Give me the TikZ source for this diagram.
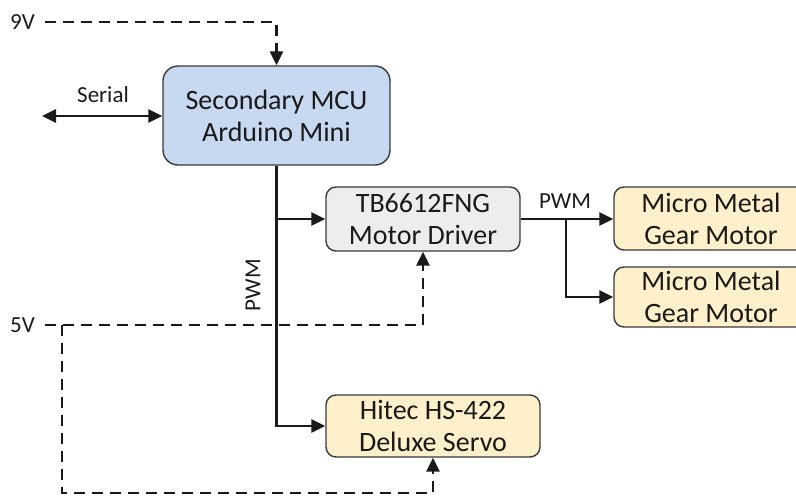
\documentclass[tikz,border=0pt]{standalone}
\usepackage{fontspec}
\setmainfont{Carlito}
\usetikzlibrary{arrows.meta}
\definecolor{mcublue}{HTML}{C6D9F1}
\definecolor{partyellow}{HTML}{FDF0CB}
\definecolor{drvgray}{HTML}{EDEDED}
\definecolor{edgegray}{HTML}{3A3A3A}
\definecolor{inkc}{HTML}{1A1A1A}
\begin{document}
\begin{tikzpicture}[x=1pt,y=-1pt,
  >={Triangle[length=14pt,width=13pt]},
  box/.style={draw=edgegray, line width=1.4pt, rounded corners=10pt, align=center,
    inner sep=0pt, font=\fontsize{28}{32}\selectfont, text=inkc},
  lbl/.style={font=\fontsize{23}{26}\selectfont, text=inkc, inner sep=0pt},
  wire/.style={draw=inkc, line width=2.7pt},
  power/.style={wire, dash pattern=on 11pt off 7pt},
]
\useasboundingbox (0,0) rectangle (796,496);
\clip (0,0) rectangle (796,496);

% boxes
\node[box, fill=mcublue, rounded corners=15pt, minimum width=227pt, minimum height=99pt]
  (mcu) at (276.5,115.5) {Secondary MCU\\Arduino Mini};
\node[box, fill=drvgray, minimum width=194pt, minimum height=64pt]
  (tb) at (423,219) {TB6612FNG\\Motor Driver};
\node[box, fill=partyellow, minimum width=194pt, minimum height=63pt]
  (m1) at (711,218.5) {Micro Metal\\Gear Motor};
\node[box, fill=partyellow, minimum width=194pt, minimum height=60pt]
  (m2) at (711,297) {Micro Metal\\Gear Motor};
\node[box, fill=partyellow, minimum width=214pt, minimum height=62pt]
  (servo) at (433,426) {Hitec HS-422\\Deluxe Servo};

% labels
\node[lbl, anchor=east] (v9) at (35,22) {9V};
\node[lbl, anchor=east] (v5) at (35,325) {5V};
\node[lbl] (serial) at (103,95) {Serial};
\node[lbl] (pwmtop) at (565,201) {PWM};
\node[lbl, rotate=90] (pwmside) at (253,285) {PWM};

% helper coordinates
\coordinate (serialEnd) at (42,116);
\coordinate (br) at (566,219);
\coordinate (v5corner) at (62,325);
\coordinate (v5bottom) at (62,493);

% power lines
\draw[power,->] ([xshift=10pt]v9.east) -| (mcu.north);
\draw[power,->] ([xshift=10pt]v5.east) -| (tb.south);
\draw[power,->] (v5corner) -- (v5bottom) -| (servo.south);

% serial
\draw[wire,<->] (serialEnd) -- (serialEnd -| mcu.west);

% PWM bus
\draw[wire,->] (mcu.south) |- (servo.west);
\draw[wire,->] (mcu.south |- tb.west) -- (tb.west);

% driver to motors
\draw[wire,->] (tb.east) -- (m1.west |- tb.east);
\draw[wire,->] (br) |- (m2.west);
\end{tikzpicture}
\end{document}
